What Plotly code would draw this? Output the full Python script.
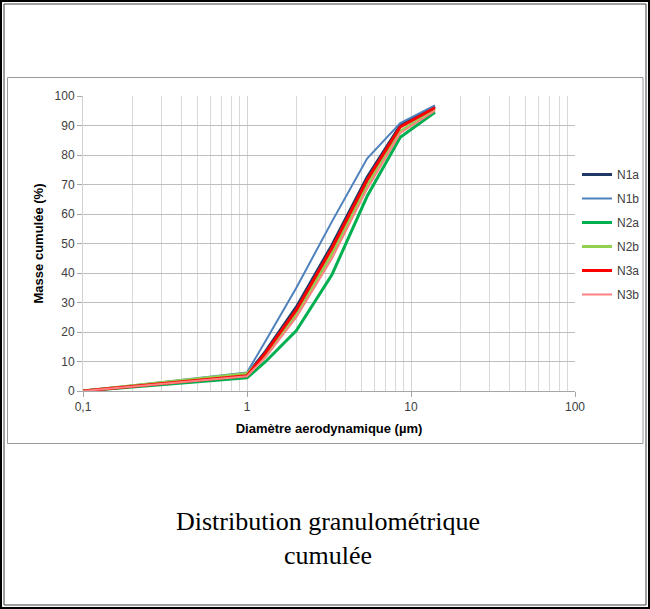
import plotly.graph_objects as go

# ---- data ----
diam = [0.1, 1.0, 1.3, 2.0, 3.3, 5.4, 8.6, 14.0]
N1a = [0, 5.5, 13.5, 28.5, 49.5, 72.5, 90.0, 96.5]
N1b = [0, 6.3, 17.0, 35.0, 57.5, 78.8, 90.8, 96.8]
N2a = [0, 4.5, 10.0, 20.5, 39.5, 66.0, 86.0, 94.5]
N2b = [0, 5.9, 12.0, 26.0, 46.5, 70.0, 88.0, 95.5]
N3a = [0, 5.2, 13.0, 27.5, 48.5, 71.5, 89.5, 96.0]
N3b = [0, 5.0, 11.5, 25.0, 45.0, 68.5, 87.5, 95.0]

series_names = ["N1a", "N1b", "N2a", "N2b", "N3a", "N3b"]
series_values = [N1a, N1b, N2a, N2b, N3a, N3b]
colors = ["#1F3864", "#4F81BD", "#00B050", "#92D050", "#FF0000", "#FF8080"]
widths = [3, 2, 3, 3, 3, 2]

xtick_vals = [0.1, 1, 10, 100]
xtick_text = ["0,1", "1", "10", "100"]
minor_vals = [m * 10 ** e for e in (-1, 0, 1) for m in range(2, 10)]

W, H = 650, 609
L, R, T, B = 83, 75, 96, 218
pw, ph = W - L - R, H - T - B

def px(x):
    return (x - L) / pw

def py(y):
    return (H - B - y) / ph

fig = go.Figure()
for i, (n, v) in enumerate(zip(series_names, series_values)):
    fig.add_trace(go.Scatter(
        x=diam, y=v, mode="lines", name=n, legendgroup=n,
        line=dict(color=colors[i], width=widths[i]),
    ))

tickfont = dict(family="Liberation Sans", size=12, color="#404040")

fig.update_layout(
    width=W, height=H,
    margin=dict(l=L, r=R, t=T, b=B, autoexpand=False),
    paper_bgcolor="white", plot_bgcolor="white",
    showlegend=True,
    legend=dict(
        x=px(577), y=py(160), xanchor="left", yanchor="top",
        font=dict(family="Liberation Sans", size=12, color="#404040"),
        tracegroupgap=5, itemwidth=30, bgcolor="rgba(0,0,0,0)",
    ),
    xaxis=dict(
        type="log", range=[-1, 2],
        tickvals=xtick_vals, ticktext=xtick_text,
        tickfont=tickfont, ticks="outside", ticklen=5, tickcolor="#a6a6a6",
        showgrid=True, gridcolor="#d4d4d4", gridwidth=1,
        minor=dict(tickvals=minor_vals, showgrid=True, gridcolor="#d9d9d9", ticks=""),
        showline=True, linecolor="#a6a6a6", linewidth=1,
        zeroline=False,
        title=dict(text="<b>Diamètre aerodynamique (µm)</b>",
                   font=dict(family="Liberation Sans", size=13, color="#000000"),
                   standoff=10),
    ),
    yaxis=dict(
        range=[0, 100], dtick=10,
        tickfont=tickfont, ticks="outside", ticklen=5, tickcolor="#a6a6a6",
        showgrid=True, gridcolor="#bdbdbd", gridwidth=1,
        showline=True, linecolor="#d0d0d0", linewidth=1,
        zeroline=False,
        title=dict(text="<b>Masse cumulée (%)</b>",
                   font=dict(family="Liberation Sans", size=13, color="#000000"),
                   standoff=8),
    ),
    shapes=[
        dict(type="rect", xref="paper", yref="paper",
             x0=px(7.5), x1=px(643), y0=py(443.5), y1=py(77.5),
             line=dict(color="#9a9a9a", width=1), fillcolor="rgba(0,0,0,0)", layer="below"),
        dict(type="rect", xref="paper", yref="paper",
             x0=px(1), x1=px(649), y0=py(608), y1=py(1),
             line=dict(color="#000000", width=2), fillcolor="rgba(0,0,0,0)"),
        dict(type="rect", xref="paper", yref="paper",
             x0=px(4), x1=px(646), y0=py(605), y1=py(4),
             line=dict(color="#404040", width=1), fillcolor="rgba(0,0,0,0)"),
    ],
    annotations=[
        dict(text="Distribution granulométrique<br>cumulée",
             xref="paper", yref="paper", x=px(328), y=py(538),
             xanchor="center", yanchor="middle", showarrow=False,
             font=dict(family="Liberation Serif", size=26, color="#000000")),
    ],
)

fig.write_html(
    "out.html",
    config={"displayModeBar": False},
    post_script="document.body.style.margin='0';document.body.style.overflow='hidden';",
)
